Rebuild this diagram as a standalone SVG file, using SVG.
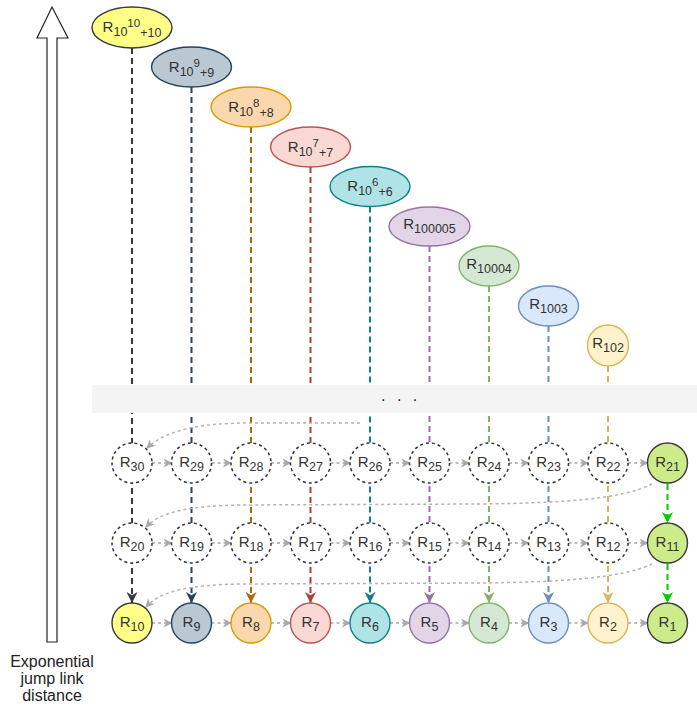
<svg xmlns="http://www.w3.org/2000/svg" width="697" height="711" viewBox="0 0 697 711">
<style>
text{font-family:"Liberation Sans",Arial,Helvetica,sans-serif;fill:#333;}
.t{font-size:15px;text-anchor:middle;}
.s{font-size:12.5px;}
.p{font-size:11.5px;}
.lbl{font-size:16px;text-anchor:middle;fill:#222;}
.vl{fill:none;stroke-width:2;stroke-dasharray:6 4;}
.hl{fill:none;stroke:#a8a8a8;stroke-width:1.5;stroke-dasharray:3 3;}
.cv{fill:none;stroke:#b3b3b3;stroke-width:1.5;stroke-dasharray:3 3;}
.dc{fill:#fff;stroke:#333;stroke-width:1.5;stroke-dasharray:3 3;}
.sn{stroke-width:1.4;}
</style>
<defs>
<marker id="mg" viewBox="0 0 10 10" refX="9" refY="5" markerWidth="9" markerHeight="9" markerUnits="userSpaceOnUse" orient="auto"><path d="M0,0 L10,5 L0,10 L3,5 Z" fill="#a8a8a8"/></marker>
<marker id="m0" viewBox="0 0 10 10" refX="10" refY="5" markerWidth="11" markerHeight="11" markerUnits="userSpaceOnUse" orient="auto"><path d="M0,0 L10,5 L0,10 L3,5 Z" fill="#36393d"/></marker>
<marker id="m1" viewBox="0 0 10 10" refX="10" refY="5" markerWidth="11" markerHeight="11" markerUnits="userSpaceOnUse" orient="auto"><path d="M0,0 L10,5 L0,10 L3,5 Z" fill="#23445d"/></marker>
<marker id="m2" viewBox="0 0 10 10" refX="10" refY="5" markerWidth="11" markerHeight="11" markerUnits="userSpaceOnUse" orient="auto"><path d="M0,0 L10,5 L0,10 L3,5 Z" fill="#b46504"/></marker>
<marker id="m3" viewBox="0 0 10 10" refX="10" refY="5" markerWidth="11" markerHeight="11" markerUnits="userSpaceOnUse" orient="auto"><path d="M0,0 L10,5 L0,10 L3,5 Z" fill="#ae4132"/></marker>
<marker id="m4" viewBox="0 0 10 10" refX="10" refY="5" markerWidth="11" markerHeight="11" markerUnits="userSpaceOnUse" orient="auto"><path d="M0,0 L10,5 L0,10 L3,5 Z" fill="#0e8088"/></marker>
<marker id="m5" viewBox="0 0 10 10" refX="10" refY="5" markerWidth="11" markerHeight="11" markerUnits="userSpaceOnUse" orient="auto"><path d="M0,0 L10,5 L0,10 L3,5 Z" fill="#9673a6"/></marker>
<marker id="m6" viewBox="0 0 10 10" refX="10" refY="5" markerWidth="11" markerHeight="11" markerUnits="userSpaceOnUse" orient="auto"><path d="M0,0 L10,5 L0,10 L3,5 Z" fill="#82b366"/></marker>
<marker id="m7" viewBox="0 0 10 10" refX="10" refY="5" markerWidth="11" markerHeight="11" markerUnits="userSpaceOnUse" orient="auto"><path d="M0,0 L10,5 L0,10 L3,5 Z" fill="#6c8ebf"/></marker>
<marker id="m8" viewBox="0 0 10 10" refX="10" refY="5" markerWidth="11" markerHeight="11" markerUnits="userSpaceOnUse" orient="auto"><path d="M0,0 L10,5 L0,10 L3,5 Z" fill="#d6b656"/></marker>
<marker id="m9" viewBox="0 0 10 10" refX="10" refY="5" markerWidth="11" markerHeight="11" markerUnits="userSpaceOnUse" orient="auto"><path d="M0,0 L10,5 L0,10 L3,5 Z" fill="#00cc00"/></marker>
</defs>
<rect width="697" height="711" fill="#fff"/>

<g id="axis">
<polygon points="47,642 47,38 37,38 52,7 68,38 57,38 57,642" fill="#fff" stroke="#222" stroke-width="1.2"/>
<text class="lbl" x="52" y="667">Exponential</text>
<text class="lbl" x="52" y="684">jump link</text>
<text class="lbl" x="52" y="701">distance</text>
</g>

<g id="connectors">
<path class="vl" stroke="#36393d" d="M132 48 V603" marker-end="url(#m0)"/>
<path class="vl" stroke="#23445d" d="M191.5 87 V603" marker-end="url(#m1)"/>
<path class="vl" stroke="#b46504" d="M251 127 V603" marker-end="url(#m2)"/>
<path class="vl" stroke="#ae4132" d="M310.5 167 V603" marker-end="url(#m3)"/>
<path class="vl" stroke="#0e8088" d="M370 206.5 V603" marker-end="url(#m4)"/>
<path class="vl" stroke="#9673a6" d="M429.5 246 V603" marker-end="url(#m5)"/>
<path class="vl" stroke="#82b366" d="M489 286 V603" marker-end="url(#m6)"/>
<path class="vl" stroke="#6c8ebf" d="M548.5 326 V603" marker-end="url(#m7)"/>
<path class="vl" stroke="#d6b656" d="M608 366 V603" marker-end="url(#m8)"/>
<path class="vl" stroke="#00cc00" d="M667.5 484 V523" marker-end="url(#m9)"/>
<path class="vl" stroke="#00cc00" d="M667.5 564 V603" marker-end="url(#m9)"/>
</g>

<g id="band">
<rect x="92" y="385" width="605" height="28" fill="#f4f4f4"/>
<text x="381" y="401" style="font-size:16px;letter-spacing:3.5px;fill:#222">. . .</text>
</g>

<g id="flow-connectors">
<path class="hl" d="M152 463 H171.5" marker-end="url(#mg)"/>
<path class="hl" d="M211.5 463 H231" marker-end="url(#mg)"/>
<path class="hl" d="M271 463 H290.5" marker-end="url(#mg)"/>
<path class="hl" d="M330.5 463 H350" marker-end="url(#mg)"/>
<path class="hl" d="M390 463 H409.5" marker-end="url(#mg)"/>
<path class="hl" d="M449.5 463 H469" marker-end="url(#mg)"/>
<path class="hl" d="M509 463 H528.5" marker-end="url(#mg)"/>
<path class="hl" d="M568.5 463 H588" marker-end="url(#mg)"/>
<path class="hl" d="M628 463 H647.5" marker-end="url(#mg)"/>
<path class="hl" d="M152 543 H171.5" marker-end="url(#mg)"/>
<path class="hl" d="M211.5 543 H231" marker-end="url(#mg)"/>
<path class="hl" d="M271 543 H290.5" marker-end="url(#mg)"/>
<path class="hl" d="M330.5 543 H350" marker-end="url(#mg)"/>
<path class="hl" d="M390 543 H409.5" marker-end="url(#mg)"/>
<path class="hl" d="M449.5 543 H469" marker-end="url(#mg)"/>
<path class="hl" d="M509 543 H528.5" marker-end="url(#mg)"/>
<path class="hl" d="M568.5 543 H588" marker-end="url(#mg)"/>
<path class="hl" d="M628 543 H647.5" marker-end="url(#mg)"/>
<path class="hl" d="M152 623 H171.5" marker-end="url(#mg)"/>
<path class="hl" d="M211.5 623 H231" marker-end="url(#mg)"/>
<path class="hl" d="M271 623 H290.5" marker-end="url(#mg)"/>
<path class="hl" d="M330.5 623 H350" marker-end="url(#mg)"/>
<path class="hl" d="M390 623 H409.5" marker-end="url(#mg)"/>
<path class="hl" d="M449.5 623 H469" marker-end="url(#mg)"/>
<path class="hl" d="M509 623 H528.5" marker-end="url(#mg)"/>
<path class="hl" d="M568.5 623 H588" marker-end="url(#mg)"/>
<path class="hl" d="M628 623 H647.5" marker-end="url(#mg)"/>
<path class="cv" d="M360 423 L250 423 C200 423 166 430 147 448" marker-end="url(#mg)"/>
<path class="cv" d="M652 484 C622 499 565 503 480 504 L240 505 C192 506 161 511 146 527" marker-end="url(#mg)"/>
<path class="cv" d="M652 564 C622 578 565 582 480 583 L240 584 C192 585 161 590 146 607" marker-end="url(#mg)"/>
</g>

<g id="node-top-0"><ellipse cx="132" cy="27.5" rx="40" ry="20.5" fill="#ffff88" stroke="#36393d" class="sn"/><text class="t" x="132" y="32">R<tspan class="s" dy="4">10</tspan><tspan class="p" dy="-9">10</tspan><tspan class="s" dy="10">+10</tspan></text></g>
<g id="node-top-1"><ellipse cx="191.5" cy="67" rx="40" ry="20" fill="#bac8d3" stroke="#23445d" class="sn"/><text class="t" x="191.5" y="71.5">R<tspan class="s" dy="4">10</tspan><tspan class="p" dy="-9">9</tspan><tspan class="s" dy="10">+9</tspan></text></g>
<g id="node-top-2"><ellipse cx="251" cy="107" rx="40" ry="20" fill="#fad7ac" stroke="#d79b00" class="sn"/><text class="t" x="251" y="111.5">R<tspan class="s" dy="4">10</tspan><tspan class="p" dy="-9">8</tspan><tspan class="s" dy="10">+8</tspan></text></g>
<g id="node-top-3"><ellipse cx="310.5" cy="147" rx="40" ry="20" fill="#fad9d5" stroke="#b85450" class="sn"/><text class="t" x="310.5" y="151.5">R<tspan class="s" dy="4">10</tspan><tspan class="p" dy="-9">7</tspan><tspan class="s" dy="10">+7</tspan></text></g>
<g id="node-top-4"><ellipse cx="370" cy="186.5" rx="40" ry="20" fill="#b0e3e6" stroke="#0e8088" class="sn"/><text class="t" x="370" y="191">R<tspan class="s" dy="4">10</tspan><tspan class="p" dy="-9">6</tspan><tspan class="s" dy="10">+6</tspan></text></g>
<g id="node-top-5"><ellipse cx="429.5" cy="226.5" rx="40.5" ry="19.5" fill="#e1d5e7" stroke="#9673a6" class="sn"/><text class="t" x="429.5" y="229">R<tspan class="s" dy="4">100005</tspan></text></g>
<g id="node-top-6"><ellipse cx="489" cy="266" rx="30" ry="20" fill="#d5e8d4" stroke="#82b366" class="sn"/><text class="t" x="489" y="268.5">R<tspan class="s" dy="4">10004</tspan></text></g>
<g id="node-top-7"><ellipse cx="548.5" cy="306" rx="30" ry="20" fill="#dae8fc" stroke="#6c8ebf" class="sn"/><text class="t" x="548.5" y="308.5">R<tspan class="s" dy="4">1003</tspan></text></g>
<g id="node-top-8"><circle cx="608" cy="345.5" r="20.5" fill="#fff2cc" stroke="#d6b656" class="sn"/><text class="t" x="608" y="348">R<tspan class="s" dy="4">102</tspan></text></g>

<g id="node-R30"><circle class="dc" cx="132" cy="463" r="20"/><text class="t" x="132" y="467">R<tspan class="s" dy="3.5">30</tspan></text></g>
<g id="node-R29"><circle class="dc" cx="191.5" cy="463" r="20"/><text class="t" x="191.5" y="467">R<tspan class="s" dy="3.5">29</tspan></text></g>
<g id="node-R28"><circle class="dc" cx="251" cy="463" r="20"/><text class="t" x="251" y="467">R<tspan class="s" dy="3.5">28</tspan></text></g>
<g id="node-R27"><circle class="dc" cx="310.5" cy="463" r="20"/><text class="t" x="310.5" y="467">R<tspan class="s" dy="3.5">27</tspan></text></g>
<g id="node-R26"><circle class="dc" cx="370" cy="463" r="20"/><text class="t" x="370" y="467">R<tspan class="s" dy="3.5">26</tspan></text></g>
<g id="node-R25"><circle class="dc" cx="429.5" cy="463" r="20"/><text class="t" x="429.5" y="467">R<tspan class="s" dy="3.5">25</tspan></text></g>
<g id="node-R24"><circle class="dc" cx="489" cy="463" r="20"/><text class="t" x="489" y="467">R<tspan class="s" dy="3.5">24</tspan></text></g>
<g id="node-R23"><circle class="dc" cx="548.5" cy="463" r="20"/><text class="t" x="548.5" y="467">R<tspan class="s" dy="3.5">23</tspan></text></g>
<g id="node-R22"><circle class="dc" cx="608" cy="463" r="20"/><text class="t" x="608" y="467">R<tspan class="s" dy="3.5">22</tspan></text></g>
<g id="node-R21"><circle cx="667.5" cy="463" r="20" fill="#cdeb8b" stroke="#36393d" class="sn"/><text class="t" x="667.5" y="467">R<tspan class="s" dy="3.5">21</tspan></text></g>

<g id="node-R20"><circle class="dc" cx="132" cy="543" r="20"/><text class="t" x="132" y="547">R<tspan class="s" dy="3.5">20</tspan></text></g>
<g id="node-R19"><circle class="dc" cx="191.5" cy="543" r="20"/><text class="t" x="191.5" y="547">R<tspan class="s" dy="3.5">19</tspan></text></g>
<g id="node-R18"><circle class="dc" cx="251" cy="543" r="20"/><text class="t" x="251" y="547">R<tspan class="s" dy="3.5">18</tspan></text></g>
<g id="node-R17"><circle class="dc" cx="310.5" cy="543" r="20"/><text class="t" x="310.5" y="547">R<tspan class="s" dy="3.5">17</tspan></text></g>
<g id="node-R16"><circle class="dc" cx="370" cy="543" r="20"/><text class="t" x="370" y="547">R<tspan class="s" dy="3.5">16</tspan></text></g>
<g id="node-R15"><circle class="dc" cx="429.5" cy="543" r="20"/><text class="t" x="429.5" y="547">R<tspan class="s" dy="3.5">15</tspan></text></g>
<g id="node-R14"><circle class="dc" cx="489" cy="543" r="20"/><text class="t" x="489" y="547">R<tspan class="s" dy="3.5">14</tspan></text></g>
<g id="node-R13"><circle class="dc" cx="548.5" cy="543" r="20"/><text class="t" x="548.5" y="547">R<tspan class="s" dy="3.5">13</tspan></text></g>
<g id="node-R12"><circle class="dc" cx="608" cy="543" r="20"/><text class="t" x="608" y="547">R<tspan class="s" dy="3.5">12</tspan></text></g>
<g id="node-R11"><circle cx="667.5" cy="543" r="20" fill="#cdeb8b" stroke="#36393d" class="sn"/><text class="t" x="667.5" y="547">R<tspan class="s" dy="3.5">11</tspan></text></g>

<g id="node-R10"><circle cx="132" cy="623" r="20" fill="#ffff88" stroke="#36393d" class="sn"/><text class="t" x="132" y="627">R<tspan class="s" dy="3.5">10</tspan></text></g>
<g id="node-R9"><circle cx="191.5" cy="623" r="20" fill="#bac8d3" stroke="#23445d" class="sn"/><text class="t" x="191.5" y="627">R<tspan class="s" dy="3.5">9</tspan></text></g>
<g id="node-R8"><circle cx="251" cy="623" r="20" fill="#fad7ac" stroke="#d79b00" class="sn"/><text class="t" x="251" y="627">R<tspan class="s" dy="3.5">8</tspan></text></g>
<g id="node-R7"><circle cx="310.5" cy="623" r="20" fill="#fad9d5" stroke="#b85450" class="sn"/><text class="t" x="310.5" y="627">R<tspan class="s" dy="3.5">7</tspan></text></g>
<g id="node-R6"><circle cx="370" cy="623" r="20" fill="#b0e3e6" stroke="#0e8088" class="sn"/><text class="t" x="370" y="627">R<tspan class="s" dy="3.5">6</tspan></text></g>
<g id="node-R5"><circle cx="429.5" cy="623" r="20" fill="#e1d5e7" stroke="#9673a6" class="sn"/><text class="t" x="429.5" y="627">R<tspan class="s" dy="3.5">5</tspan></text></g>
<g id="node-R4"><circle cx="489" cy="623" r="20" fill="#d5e8d4" stroke="#82b366" class="sn"/><text class="t" x="489" y="627">R<tspan class="s" dy="3.5">4</tspan></text></g>
<g id="node-R3"><circle cx="548.5" cy="623" r="20" fill="#dae8fc" stroke="#6c8ebf" class="sn"/><text class="t" x="548.5" y="627">R<tspan class="s" dy="3.5">3</tspan></text></g>
<g id="node-R2"><circle cx="608" cy="623" r="20" fill="#fff2cc" stroke="#d6b656" class="sn"/><text class="t" x="608" y="627">R<tspan class="s" dy="3.5">2</tspan></text></g>
<g id="node-R1"><circle cx="667.5" cy="623" r="20" fill="#cdeb8b" stroke="#36393d" class="sn"/><text class="t" x="667.5" y="627">R<tspan class="s" dy="3.5">1</tspan></text></g>
</svg>
